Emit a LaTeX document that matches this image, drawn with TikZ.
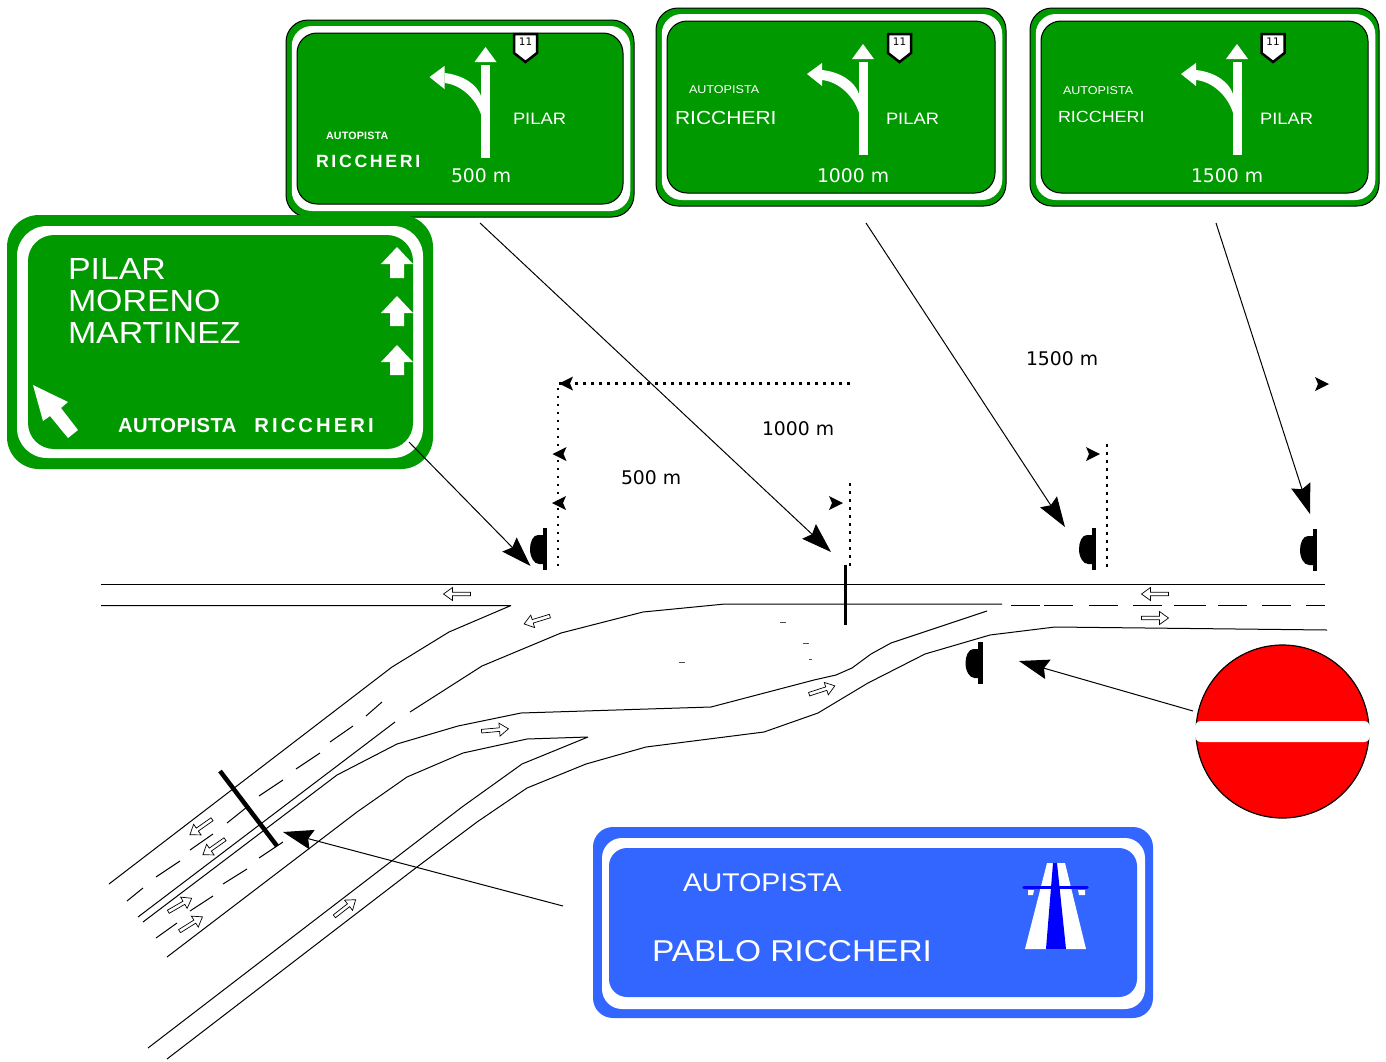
\documentclass[tikz,border=0pt]{standalone}
\usepackage{fontspec}
\setmainfont{DejaVu Sans}
\newfontfamily\signfont[FakeStretch=1.11]{Liberation Sans}
\newfontfamily\tightbold[LetterSpace=2]{Liberation Sans Bold}
\newfontfamily\widebold[LetterSpace=15]{Liberation Sans Bold}
\usetikzlibrary{arrows.meta,calc}
\definecolor{signgreen}{RGB}{0,153,0}
\definecolor{signblue}{RGB}{51,102,255}
\def\px{0.75pt}
\tikzset{
  panel/.style={rounded corners=#1*\px,inner sep=0pt,outer sep=0pt},
  roadline/.style={line width=1*\px,black,line join=bevel},
  leader/.style={line width=1*\px,-{Stealth[length=30*\px,width=20*\px,inset=4*\px]}},
  dotline/.style={line width=2.6*\px,dash pattern=on 2.6*\px off 5.4*\px},
  txt/.style={inner sep=0pt,outer sep=0pt,anchor=base west,text=white},
  dimtxt/.style={inner sep=0pt,outer sep=0pt,anchor=base west,font=\fontsize{14.1}{15}\selectfont},
}
% hollow lane arrow
\newcommand{\lanearrow}[3]{
  \draw[line width=0.7*\px,fill=white,shift={(#1,#2)},rotate=#3]
    (-13.5,-1.8)--(4.5,-1.8)--(4.5,-6.5)--(13.5,0)--(4.5,6.5)--(4.5,1.8)--(-13.5,1.8)--cycle;
}
% signal head on its post
\newcommand{\signalhead}[2]{
  \fill[shift={(#1,#2)}] (-2.2,-21)--(2.2,-21)--(2.2,21)--(-2.2,21)--cycle;
  \fill[shift={(#1,#2)}] (-2.2,-14) -- (-7,-14) .. controls (-12,-14) and (-15,-7) .. (-15,0)
    .. controls (-15,8) and (-11,15) .. (-6,15) -- (-2.2,15) -- cycle;
}
\begin{document}
\begin{tikzpicture}[x=0.75pt,y=-0.75pt]
\useasboundingbox (0,0) rectangle (1386,1061);

% roadway
\draw[roadline] (101,584.5)--(1325,584.5);
\draw[roadline] (101,605.5)--(511,605.5)--(449,632)--(392,667)--(109,884);
\draw[roadline] (1002,604)--(725,604)--(643,612)--(561,633)--(482,666)--(410,712);
\draw[roadline] (1327,630)--(1055,627)--(990,635)--(925,654)--(868,683)--(818,713)--(764,732)--(646,747)--(586,764)--(527,788)--(477,822)--(417,867)--(167,1059);
\draw[roadline] (987,611)--(891,643)--(871,654)--(852,668)--(836,675)--(814,680)--(711,707)--(521,713)--(458,726)--(397,744)--(337,775)--(143,922);
\draw[roadline] (395,722)--(138,917);
\draw[roadline] (167,957)--(357,812)--(407,777)--(463,753)--(527,739)--(588,737)--(522,764)--(462,807)--(148,1048);

\foreach \a/\b in {1011/1040,1044/1073,1089/1118,1133/1162,1174/1206,1218/1247,1262/1291,1306/1325}
  \draw[roadline] (\a,605.5)--(\b,605.5);
\foreach \a/\b/\c/\d in {382/702/366/716,353/726/330/742,320/753/296/769,283/780/259/796,247/807/227/823,213/834/190/850,180/861/156/877,143/888/127/901,283/842/259/858,247/869/223/884,213/896/190/911,177/923/156/938}
  \draw[roadline] (\a,\b)--(\c,\d);
\foreach \a/\b/\c in {780/786/622,803/809/643,809/812/659,679/685/662}
  \draw[line width=1*\px,black!70] (\a,\c)--(\b,\c);

\foreach \x/\y/\r in {457/594/180,537/620/197,495/730/5,822/690/18,1155/594/180,1155/618/0,201/827/215,214/847/215,180/905/30,191/924/32,345/908/38}{
  \lanearrow{\x}{\y}{\r}
}

% stop lines
\draw[line width=3*\px] (845,565)--(845,625);
\draw[line width=4.5*\px] (220,771)--(277,846);

% signal heads
\signalhead{545}{549}
\signalhead{1094}{549}
\signalhead{1315}{550}
\signalhead{980.5}{663}

% distances
\draw[dotline] (850,383.5)--(558,383.5)--(558,568);
\draw[dotline] (850,483)--(850,567);
\draw[dotline] (1107,444)--(1107,567);
\foreach \x/\y/\r in {559/383.5/180,552.5/454/180,552/503/180,843/503/0,1100/454/0,1329/384/0}
  \fill[shift={(\x,\y)},rotate=\r] (0,0)--(-14,-7)--(-11,0)--(-14,7)--cycle;
\node[dimtxt] (lenFive) at (621,484) {500 m};
\node[dimtxt] (lenTen) at (762,435) {1000 m};
\node[dimtxt] (lenFifteen) at (1026,365) {1500 m};

% gantry signs
\foreach \n/\x/\y/\w/\h/\i/\t/\s in {five/460/118.5/348/197/485.5/47/525.5,ten/831/107/350/198/863/44/899.5,fifteen/1204.5/107/349/198/1237/44/1273}{
  \node[panel=22,draw=black,line width=1*\px,fill=signgreen,minimum width=\w*\px,minimum height=\h*\px] (\n Outer) at (\x,\y) {};
  \node[panel=20,fill=white,minimum width=(\w-9.5)*\px,minimum height=(\h-12)*\px] (\n Band) at (\x+1,\y) {};
  \node[panel=20,draw=black,line width=1*\px,fill=signgreen,minimum width=(\w-22)*\px,minimum height=(\h-26)*\px] (\n Inner) at (\x,\y) {};
  % shaft with branch
  \fill[white] (\i-4.5,\t+18)--(\i+4.5,\t+18)--(\i+4.5,\t+111)--(\i-4.5,\t+111)--cycle;
  \fill[white] (\i,\t)--(\i+11,\t+15)--(\i-11,\t+15)--cycle;
  \fill[white] (\i-56,\t+30)--(\i-41,\t+19)--(\i-41,\t+42)--cycle;
  \fill[white] (\i-41,\t+26) .. controls (\i-22,\t+28) and (\i-8,\t+38) .. (\i-4,\t+50)
    -- (\i-4,\t+69) .. controls (\i-8,\t+55) and (\i-22,\t+38) .. (\i-41,\t+36) -- cycle;
  % route shield
  \draw[line width=2.5*\px,fill=white] (\s-11.5,34)--(\s+11.5,34)--(\s+11.5,53)--(\s,62)--(\s-11.5,53)--cycle;
  \node[inner sep=0pt,font=\fontsize{7.8}{8}\selectfont] (\n Route) at (\s,42) {11};
}
\node[txt,font=\tightbold\fontsize{8}{9}\selectfont] (autoFive) at (326,139) {AUTOPISTA};
\node[txt,font=\widebold\fontsize{13.3}{14}\selectfont] (riccFive) at (316,167) {RICCHERI};
\node[txt,font=\signfont\fontsize{12.4}{13}\selectfont] (pilarFive) at (513,124) {PILAR};
\node[txt,font=\fontsize{14.1}{15}\selectfont] (distFive) at (451,182) {500 m};
\node[txt,font=\signfont\fontsize{8.5}{9}\selectfont] (autoTen) at (689,93) {AUTOPISTA};
\node[txt,font=\signfont\fontsize{14.2}{15}\selectfont] (riccTen) at (675,124) {RICCHERI};
\node[txt,font=\signfont\fontsize{12.4}{13}\selectfont] (pilarTen) at (886,124) {PILAR};
\node[txt,font=\fontsize{14.1}{15}\selectfont] (distTen) at (817,182) {1000 m};
\node[txt,font=\signfont\fontsize{8.5}{9}\selectfont] (autoFifteen) at (1063,94) {AUTOPISTA};
\node[txt,font=\signfont\fontsize{12.1}{13}\selectfont] (riccFifteen) at (1058,122) {RICCHERI};
\node[txt,font=\signfont\fontsize{12.4}{13}\selectfont] (pilarFifteen) at (1260,124) {PILAR};
\node[txt,font=\fontsize{14.1}{15}\selectfont] (distFifteen) at (1191,182) {1500 m};

% main sign
\node[panel=32,fill=signgreen,minimum width=426*\px,minimum height=254*\px] (mainOuter) at (220,342) {};
\node[panel=30,fill=white,minimum width=406*\px,minimum height=232*\px] (mainBand) at (220,342) {};
\node[panel=26,fill=signgreen,minimum width=385*\px,minimum height=214*\px] (mainInner) at (220.5,342) {};
\node[txt,font=\signfont\fontsize{22.9}{24}\selectfont] (mainPilar) at (68,279) {PILAR};
\node[txt,font=\signfont\fontsize{22.9}{24}\selectfont] (mainMoreno) at (68,311) {MORENO};
\node[txt,font=\signfont\fontsize{22.9}{24}\selectfont] (mainMartinez) at (68,343) {MARTINEZ};
\node[txt,font=\fontsize{15.2}{16}\selectfont] (mainRoad) at (118,432) {\tightbold AUTOPISTA\hspace{13.5pt}\widebold RICCHERI};
\foreach \t/\b in {247/278,296/326,345/375}
  \fill[white] (397,\t)--(413,\t+17)--(404,\t+17)--(404,\b)--(390,\b)--(390,\t+17)--(381,\t+17)--cycle;
\fill[white] (33,385)--(68,402)--(61,408)--(78,430)--(68,438)--(50,416)--(43,421)--cycle;

% motorway sign
\node[panel=20,fill=signblue,minimum width=560*\px,minimum height=191*\px] (motorOuter) at (873,922.5) {};
\node[panel=20,fill=white,minimum width=543*\px,minimum height=171*\px] (motorBand) at (873.5,923.5) {};
\node[panel=18,fill=signblue,minimum width=528*\px,minimum height=149*\px] (motorInner) at (873,922.5) {};
\node[txt,font=\signfont\fontsize{19.2}{20}\selectfont] (motorAuto) at (683,891) {AUTOPISTA};
\node[txt,font=\signfont\fontsize{22.6}{24}\selectfont] (motorName) at (652,961) {PABLO RICCHERI};
\fill[white] (1047,863)--(1065,863)--(1086,949)--(1025,949)--cycle;
\fill[blue] (1053,863)--(1057,863)--(1066,949)--(1046,949)--cycle;
\fill[white] (1028,890)--(1034,890)--(1033,895)--(1028,895)--cycle;
\fill[white] (1078,890)--(1085,890)--(1085,895)--(1079,895)--cycle;
\draw[blue,line width=3.5*\px,line cap=round] (1024,887.5)--(1087,887.5);

% no entry
\node[circle,draw=black,line width=1.2*\px,fill=red,minimum size=173*\px,inner sep=0pt,outer sep=0pt] (noEntry) at (1282.5,731.5) {};
\node[panel=6,fill=white,minimum width=175*\px,minimum height=21*\px] (noEntryBar) at (1282.5,731.5) {};

% leaders
\coordinate (mainTail) at (409,442);
\coordinate (headMain) at (530.5,566);
\coordinate (fiveTail) at (480,223);
\coordinate (headFive) at (831,552);
\coordinate (tenTail) at (866,223);
\coordinate (headTen) at (1065,527);
\coordinate (fifteenTail) at (1216,223);
\coordinate (headFifteen) at (1310,514);
\coordinate (noEntryTail) at (1193,711);
\coordinate (headRamp) at (1019,661);
\coordinate (motorTail) at (563,906);
\coordinate (headStop) at (283,832);
\draw[leader] (mainTail)--(headMain);
\draw[leader] (fiveTail)--(headFive);
\draw[leader] (tenTail)--(headTen);
\draw[leader] (fifteenTail)--(headFifteen);
\draw[leader] (noEntryTail)--(headRamp);
\draw[leader] (motorTail)--(headStop);
\end{tikzpicture}
\end{document}
